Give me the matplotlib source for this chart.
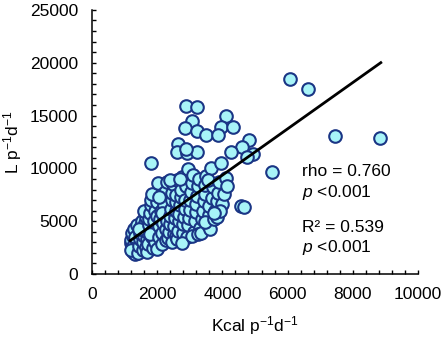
import matplotlib
matplotlib.use('Agg')
import matplotlib.pyplot as plt
from matplotlib.ticker import MultipleLocator

plt.rcParams['font.family'] = ['Liberation Sans', 'DejaVu Sans']
plt.rcParams['mathtext.fontset'] = 'custom'
plt.rcParams['mathtext.rm'] = 'Liberation Sans'
plt.rcParams['mathtext.it'] = 'Liberation Sans:italic'

# energy intake (kcal per person per day) vs water use (litres per person per day)
kcal = [
    1180, 1200, 1220, 1250, 1260, 1300, 1320, 1340, 1350, 1380, 1400, 1230, 1280, 1390, 1200, 1310,
    1420, 1450, 1470, 1480, 1500, 1520, 1550, 1560, 1580, 1600, 1620, 1640, 1660, 1680, 1700, 1590, 1450, 1700,
    1730, 1750, 1760, 1780, 1800, 1820, 1850, 1860, 1880, 1900, 1920, 1940, 1960, 1980, 2000, 1830, 1780, 1990,
    2030, 2050, 2060, 2080, 2100, 2120, 2150, 2160, 2180, 2200, 2220, 2250, 2260, 2280, 2300, 2040, 2140, 2290,
    2330, 2350, 2380, 2400, 2420, 2440, 2460, 2480, 2500, 2520, 2540, 2560, 2580, 2600, 2390, 2450, 2590, 2570,
    2620, 2650, 2660, 2680, 2700, 2720, 2740, 2760, 2780, 2800, 2820, 2840, 2860, 2880, 2900, 2930, 2700, 2750,
    2950, 2980, 3000, 3020, 3050, 3080, 3100, 3120, 3150, 3180, 3200, 3220, 3250, 3280, 3300, 3060, 3240,
    3350, 3380, 3400, 3420, 3450, 3480, 3500, 3550, 3580, 3600, 3620, 3650, 3680, 3700, 3450, 3560,
    3750, 3780, 3820, 3850, 3900, 3950, 3830, 4000, 4050, 4100, 3920, 4150,
    6080, 6630, 7450, 8840, 5520, 2870, 3210, 4110, 3060, 2860, 3230, 3500, 3950, 3870, 4330,
    2650, 2600, 2920, 3210, 2870, 4830, 4600, 4270, 4950, 4750, 1810, 4570, 4670, 3740,
]
litres = [
    2900, 3200, 2500, 2100, 3600, 2800, 1900, 3300, 4000, 2400, 3000, 3900, 4300, 4600, 2300, 3500,
    2000, 2700, 3300, 3900, 4500, 5000, 2300, 3000, 3600, 4200, 4800, 5400, 2600, 3300, 4000, 6000, 4300, 2100,
    2800, 4600, 5200, 5800, 6500, 7000, 3500, 4300, 2500, 5000, 6000, 3000, 4000, 5500, 6800, 7600, 3800, 2400,
    8600, 3500, 4500, 5200, 6000, 7200, 2800, 3900, 4800, 5600, 6500, 7800, 3200, 4300, 8700, 7300, 5800, 5000,
    3400, 4000, 4700, 5500, 6200, 7000, 7700, 8500, 3800, 4500, 5300, 6000, 6800, 8900, 8900, 3000, 3600, 7500,
    3300, 4100, 5000, 5700, 6500, 7300, 8000, 9200, 3900, 4700, 5400, 6200, 7000, 8300, 3500, 9900, 9000, 2900,
    4600, 5300, 6100, 7000, 7800, 8600, 9400, 4000, 5000, 5900, 6600, 7400, 8300, 9000, 4400, 3600, 3800,
    3850, 5200, 6000, 6900, 7600, 8400, 9300, 4600, 5600, 6400, 4230, 10000, 7200, 8200, 4900, 8900,
    5200, 6000, 6900, 7700, 8700, 10480, 5400, 6600, 7600, 9060, 6000, 8300,
    18440, 17490, 13100, 12910, 9690, 15910, 15790, 14990, 14520, 13800, 13570, 13160, 13890, 13160, 13950,
    12310, 11520, 11430, 11520, 11840, 12690, 12060, 11520, 11360, 11110, 10480, 6470, 6310, 5740,
]

# regression line
line_x = [1170, 8860]
slope = 2.19
intercept = 600

fig = plt.figure(figsize=(4.47, 3.40), dpi=100)
ax = fig.add_axes([0.206, 0.194, 0.729, 0.777])

ax.scatter(kcal, litres, s=82, facecolor='#a8f4f8', edgecolor='#1a3585', linewidth=1.5, zorder=2)
ax.plot(line_x, [slope * x + intercept for x in line_x], color='black', lw=2.0, zorder=3)

ax.set_xlim(0, 10000)
ax.set_ylim(0, 25000)
ax.xaxis.set_major_locator(MultipleLocator(2000))
ax.xaxis.set_minor_locator(MultipleLocator(400))
ax.yaxis.set_major_locator(MultipleLocator(5000))
ax.yaxis.set_minor_locator(MultipleLocator(1000))
ax.tick_params(which='both', direction='in', length=3, width=1, labelsize=12.5)
ax.tick_params(axis='x', pad=9)
ax.tick_params(axis='y', pad=10)
for side in ['top', 'right']:
    ax.spines[side].set_visible(False)
for side in ['left', 'bottom']:
    ax.spines[side].set_linewidth(1.1)

ax.set_xlabel(r'Kcal p$^{\mathregular{-1}}$d$^{\mathregular{-1}}$', fontsize=12.5, labelpad=9)
ax.set_ylabel(r'L p$^{\mathregular{-1}}$d$^{\mathregular{-1}}$', fontsize=12.5, labelpad=4)

tx = 6450
ax.text(tx, 9750, 'rho = 0.760', fontsize=12.5, va='center')
ax.text(tx, 7700, r'$\mathit{p}$ <0.001', fontsize=12.5, va='center')
ax.text(tx, 4450, 'R² = 0.539', fontsize=12.5, va='center')
ax.text(tx, 2550, r'$\mathit{p}$ <0.001', fontsize=12.5, va='center')

fig.savefig('out.png', dpi=100)
